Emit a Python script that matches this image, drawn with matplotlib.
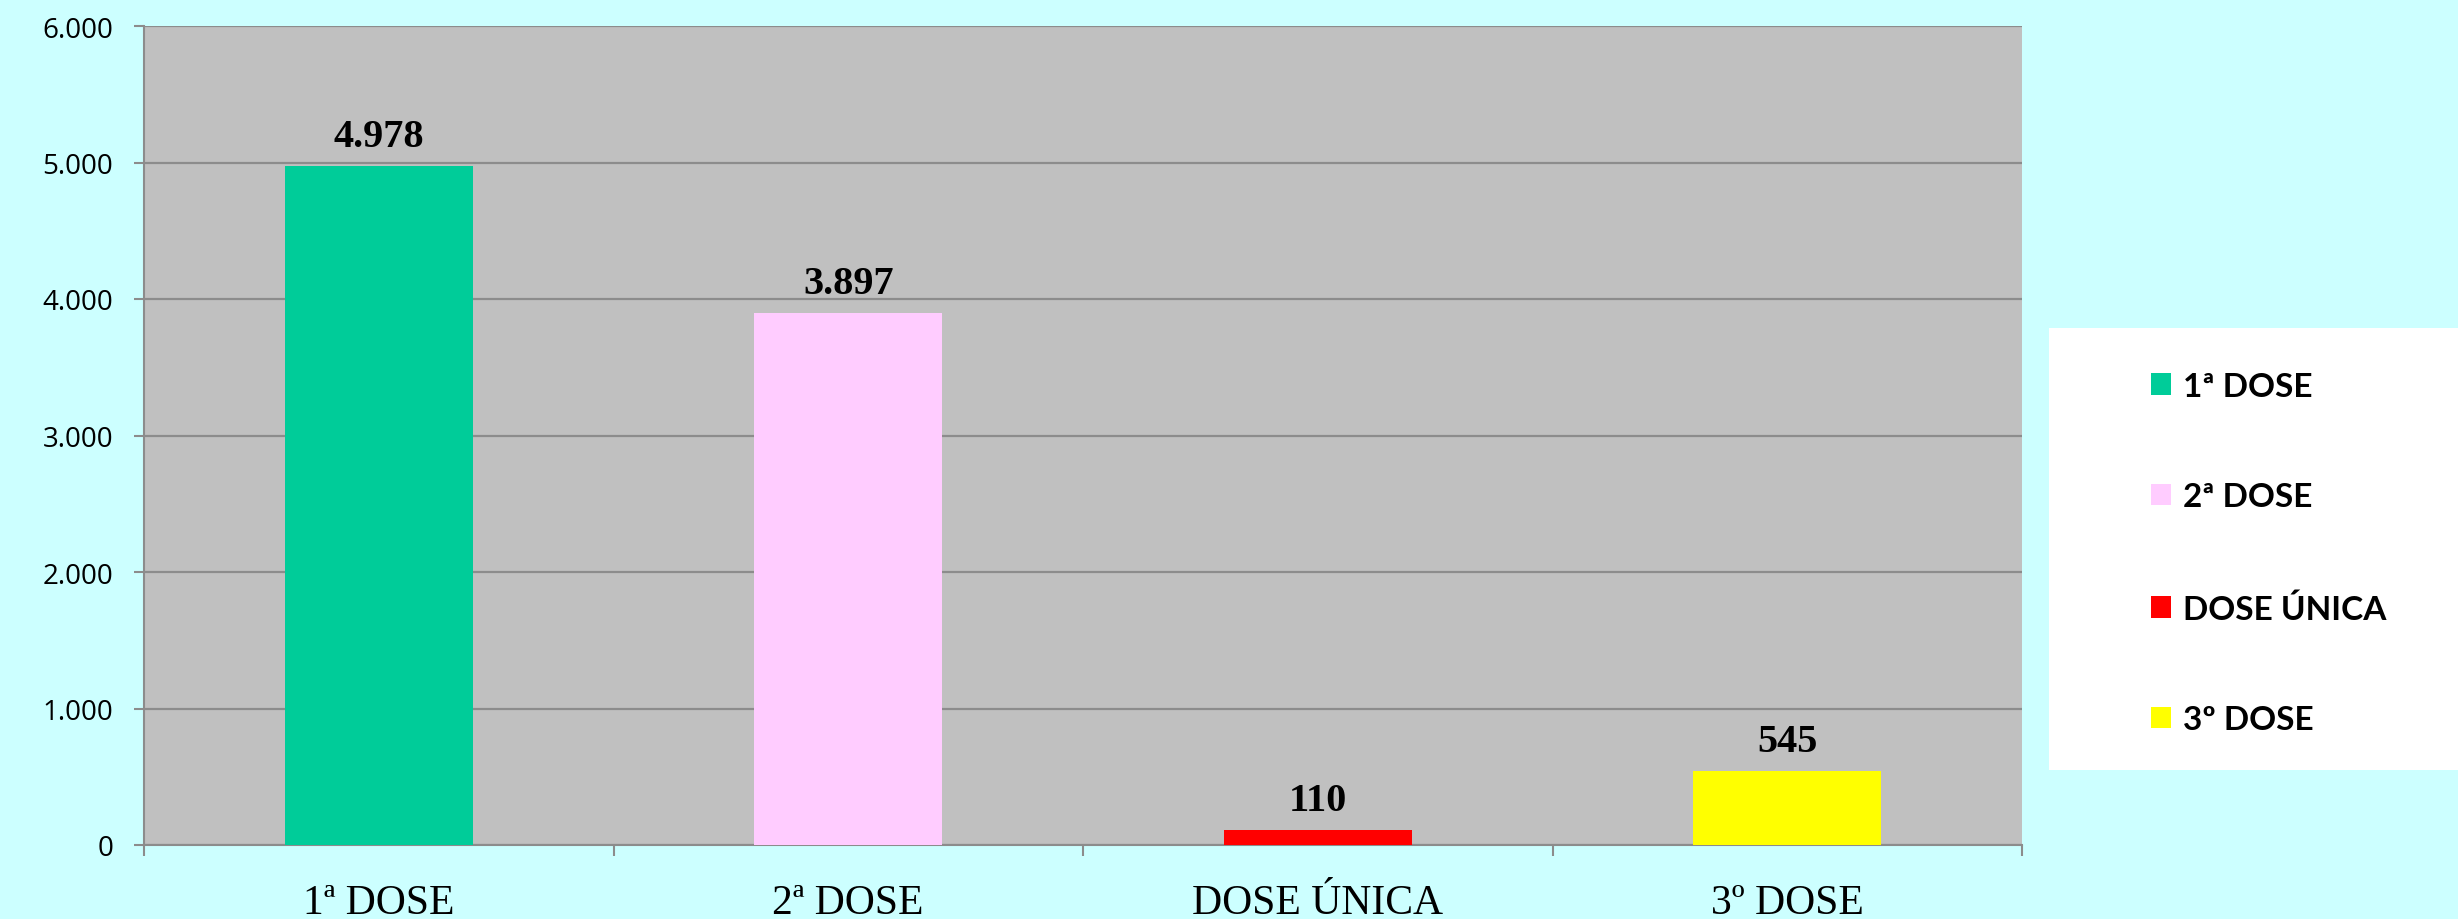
import matplotlib
matplotlib.use("Agg")
import matplotlib.pyplot as plt
from matplotlib.patches import Rectangle, Patch
from matplotlib.ticker import FuncFormatter, FixedLocator

categories = ["1ª DOSE", "2ª DOSE", "DOSE ÚNICA", "3º DOSE"]
values = [4978, 3897, 110, 545]
colors = ["#00CC99", "#FFCCFF", "#FF0000", "#FFFF00"]
yticks = [0, 1000, 2000, 3000, 4000, 5000, 6000]

W, H = 2458, 920
fig = plt.figure(figsize=(W / 100, H / 100), dpi=100)
fig.patch.set_facecolor("#CCFFFF")

l, r, t, b = 144, 2022, 27, 846
ax = fig.add_axes([l / W, 1 - b / H, (r - l) / W, (b - t) / H])
ax.set_facecolor("#C0C0C0")

x = list(range(len(categories)))
bars = ax.bar(x, values, width=0.4, color=colors, zorder=3)

ax.set_xlim(-0.5, len(categories) - 0.5)
ax.set_ylim(0, 6000)
ax.set_yticks(yticks)
ax.yaxis.set_major_formatter(FuncFormatter(lambda v, p: f"{int(v):,}".replace(",", ".")))
ax.grid(axis="y", color="#8C8C8C", linewidth=1.6, zorder=1)

ax.xaxis.set_major_locator(FixedLocator([i - 0.5 for i in range(len(categories) + 1)]))
ax.xaxis.set_minor_locator(FixedLocator(x))
ax.set_xticklabels([""] * (len(categories) + 1))
ax.set_xticks(x, minor=True)
ax.set_xticklabels(categories, minor=True, fontfamily="Liberation Serif", fontsize=30)
ax.tick_params(axis="x", which="minor", length=0, pad=28)
ax.tick_params(axis="x", which="major", length=8, width=1.5, color="#8C8C8C")
ax.tick_params(axis="y", length=7.2, width=1.5, color="#8C8C8C", pad=15)
for lab in ax.get_yticklabels():
    lab.set_fontfamily("Open Sans")
    lab.set_fontsize(20)

for s in ["top", "right"]:
    ax.spines[s].set_visible(False)
for s in ["left", "bottom"]:
    ax.spines[s].set_color("#8C8C8C")
    ax.spines[s].set_linewidth(1.5)

for rect, v in zip(bars, values):
    ax.annotate(f"{v:,}".replace(",", "."), (rect.get_x() + rect.get_width() / 2, v),
                xytext=(0, 14.4), textcoords="offset points", ha="center", va="baseline",
                fontfamily="Liberation Serif", fontweight="bold", fontsize=29, zorder=4)

# legend box
fig.patches.append(Rectangle((2049 / W, 1 - 771 / H), (W - 2049) / W, (771 - 329) / H,
                             transform=fig.transFigure, facecolor="white", edgecolor="none", zorder=0))
handles = [Patch(facecolor=c, edgecolor="none") for c in colors]
leg = fig.legend(handles, categories, loc="center left",
                 bbox_to_anchor=(2134 / W, 1 - 554 / H), frameon=False,
                 prop={"family": "Lato", "weight": "bold", "size": 24},
                 handlelength=0.62, handleheight=0.62, handletextpad=0.35,
                 labelspacing=2.45, borderpad=0)

fig.savefig("out.png", dpi=100, facecolor=fig.get_facecolor())
